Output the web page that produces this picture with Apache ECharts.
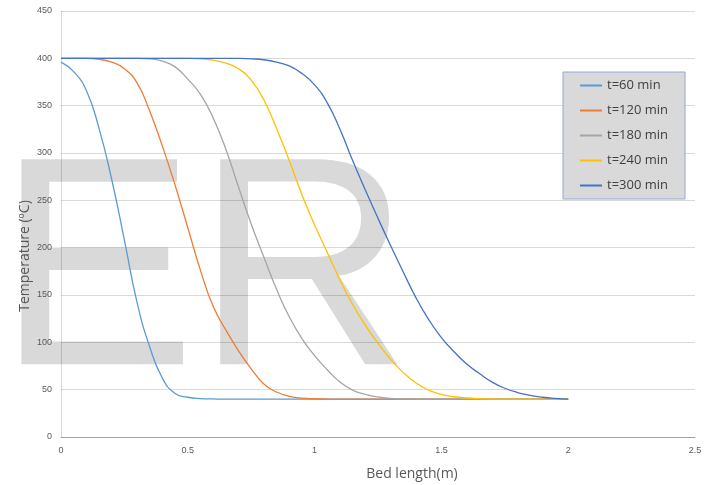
<!DOCTYPE html>
<html>
<head>
<meta charset="utf-8">
<script src="https://cdn.jsdelivr.net/npm/echarts@6/dist/echarts.min.js"></script>
<style>
  html, body { margin: 0; padding: 0; background: #ffffff; }
  #chart { width: 716px; height: 485px; }
</style>
</head>
<body>
<div id="chart"></div>
<script>
// ---- data ----
const seriesNames = ['t=60 min', 't=120 min', 't=180 min', 't=240 min', 't=300 min'];

const bedLength = [0, 0.05, 0.1, 0.15, 0.2, 0.25, 0.3, 0.35, 0.4, 0.45,
                   0.5, 0.55, 0.6, 0.65, 0.7, 0.75, 0.8, 0.85, 0.9, 0.95,
                   1, 1.05, 1.1, 1.15, 1.2, 1.25, 1.3, 1.35, 1.4, 1.45,
                   1.5, 1.55, 1.6, 1.65, 1.7, 1.75, 1.8, 1.85, 1.9, 1.95, 2];

const temp60  = [396, 386, 366, 326, 272, 208, 142, 95, 62, 46,
                 42, 40.6, 40.2, 40, 40, 40, 40, 40, 40, 40,
                 40, 40, 40, 40, 40, 40, 40, 40, 40, 40,
                 40, 40, 40, 40, 40, 40, 40, 40, 40, 40, 40];

const temp120 = [400, 400, 400, 399, 396, 389, 374, 344, 307, 266,
                 221, 176, 138, 113, 91, 72, 56, 47.5, 43, 41,
                 40.4, 40.1, 40, 40, 40, 40, 40, 40, 40, 40,
                 40, 40, 40, 40, 40, 40, 40, 40, 40, 40, 40];

const temp180 = [400, 400, 400, 400, 400, 400, 400, 399.5, 397, 391,
                 378, 362, 337, 304, 264, 225, 190, 156, 127, 104,
                 86, 71, 58, 49.5, 45, 42.3, 40.9, 40.3, 40, 40,
                 40, 40, 40, 40, 40, 40, 40, 40, 40, 40, 40];

const temp240 = [400, 400, 400, 400, 400, 400, 400, 400, 400, 400,
                 400, 399.5, 398, 395, 389, 377, 356, 326, 292, 256,
                 224, 195, 166, 140, 118, 99, 82, 68, 57, 49.5,
                 45, 42.5, 41.2, 40.5, 40.2, 40, 40, 40, 40, 40, 40];

const temp300 = [400, 400, 400, 400, 400, 400, 400, 400, 400, 400,
                 400, 400, 400, 400, 400, 399.5, 398.5, 396, 392, 384,
                 372, 353, 325, 292, 261, 231, 202, 174, 147, 124,
                 105, 90, 77, 67, 58, 51.5, 47, 44, 42, 40.8, 40];

const xAxisName = 'Bed length(m)';
const yAxisName = 'Temperature (ºC)';
const watermarkText = 'ER';

// ---- build chart ----
const colors = ['#5B9BD5', '#ED7D31', '#A5A5A5', '#FFC000', '#4472C4'];
const temps = [temp60, temp120, temp180, temp240, temp300];

const series = seriesNames.map((name, i) => ({
  name: name,
  type: 'line',
  data: bedLength.map((x, j) => [x, temps[i][j]]),
  showSymbol: false,
  smooth: 0.5,
  lineStyle: { width: 1.3, color: colors[i] },
  itemStyle: { color: colors[i] },
  z: 2
}));

const chart = echarts.init(document.getElementById('chart'), null, { renderer: 'canvas' });
chart.setOption({
  backgroundColor: '#ffffff',
  animation: false,
  grid: { left: 61, right: 21, top: 11, bottom: 48, containLabel: false },
  xAxis: {
    type: 'value',
    min: 0, max: 2.5, interval: 0.5,
    axisLine: { show: true, lineStyle: { color: 'rgba(0,0,0,0.25)', width: 1 } },
    axisTick: { show: false },
    splitLine: { show: false },
    axisLabel: { color: '#595959', fontSize: 9, margin: 9, fontFamily: 'Liberation Sans Narrow, Liberation Sans, sans-serif' }
  },
  yAxis: {
    type: 'value',
    min: 0, max: 450, interval: 50,
    axisLine: { show: true, lineStyle: { color: 'rgba(0,0,0,0.15)', width: 1 } },
    axisTick: { show: false },
    splitLine: { show: true, lineStyle: { color: 'rgba(0,0,0,0.15)', width: 1 } },
    axisLabel: { color: '#595959', fontSize: 9, margin: 9, fontFamily: 'Liberation Sans Narrow, Liberation Sans, sans-serif' }
  },
  legend: {
    orient: 'vertical',
    left: 563, top: 72,
    padding: [6, 17, 6, 17],
    backgroundColor: '#d9d9d9',
    borderColor: '#8faadc',
    borderWidth: 1,
    itemGap: 10,
    itemWidth: 22,
    itemHeight: 2,
    itemTextGap: 3,
    icon: 'rect',
    data: seriesNames,
    textStyle: { color: '#404040', fontSize: 13, lineHeight: 15, fontFamily: 'Open Sans, Liberation Sans, sans-serif' }
  },
  graphic: [
    {
      type: 'text',
      z: -10,
      silent: true,
      style: {
        text: watermarkText,
        x: -3, y: 282,
        align: 'left', verticalAlign: 'middle',
        fill: '#d9d9d9',
        font: '298px "Liberation Sans", Arial, sans-serif'
      }
    },
    {
      type: 'text',
      z: 5,
      style: {
        text: xAxisName,
        x: 412, y: 474,
        align: 'center', verticalAlign: 'middle',
        fill: '#595959',
        font: '14px "Open Sans", "Liberation Sans", sans-serif'
      }
    },
    {
      type: 'text',
      x: 25, y: 256,
      rotation: Math.PI / 2,
      z: 5,
      style: {
        text: yAxisName,
        x: 0, y: 0,
        align: 'center', verticalAlign: 'middle',
        fill: '#595959',
        font: '14px "Open Sans", "Liberation Sans", sans-serif'
      }
    }
  ],
  series: series
});
</script>
</body>
</html>
